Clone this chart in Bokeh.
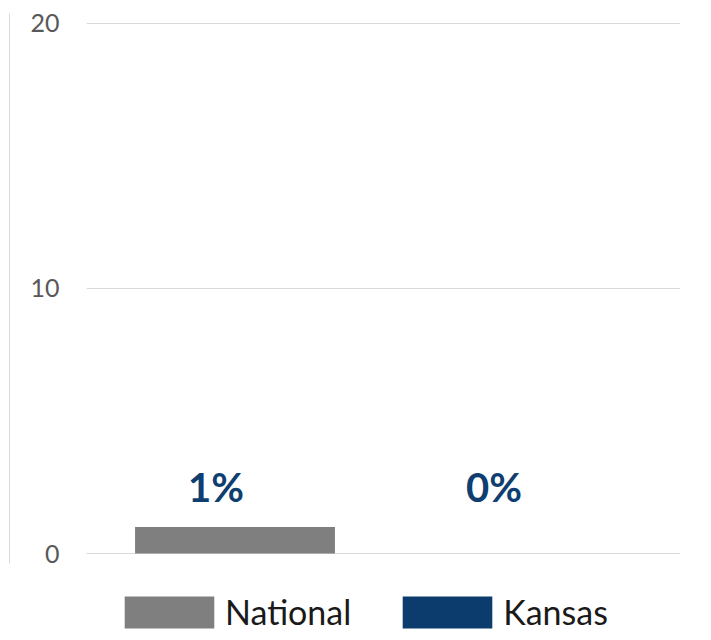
from bokeh.plotting import figure
from bokeh.models import (ColumnDataSource, FactorRange, Range1d, LinearAxis,
                          FixedTicker, Legend, LegendItem)
from bokeh.core.properties import value
from bokeh.embed import file_html
from bokeh.resources import INLINE

# ---- data ----
categories = ["National", "Kansas"]
values = [1, 0]
value_labels = ["1%", "0%"]
y_ticks = [0, 10, 20]

# ---- styles ----
bar_colors = ["#7F7F7F", "#0B3C6D"]
label_dx = [-19, -38]
LABEL_Y = 2.5
FONT = "Lato"
Y_TOP = 20.377          # a little headroom above the 20 gridline
Y_AXIS_BOTTOM = -0.377  # where the light vertical rule ends
Y_BOTTOM = -2.981       # extra room at the bottom for the legend

src = ColumnDataSource(dict(cat=categories, val=values, lab=value_labels,
                            color=bar_colors, dx=label_dx,
                            ly=[LABEL_Y] * len(categories)))

p = figure(x_range=FactorRange(*categories), y_range=Range1d(Y_BOTTOM, Y_TOP),
           width=695, height=632,
           output_backend="svg", toolbar_location=None,
           x_axis_location=None, y_axis_location="left",
           min_border_left=86, min_border_right=15, min_border_top=13,
           min_border_bottom=0, outline_line_color=None)

bars = p.vbar(x="cat", top="val", bottom=0, width=0.673, color="color",
              line_color=None, source=src)

p.text(x="cat", y="ly", text="lab", source=src, x_offset="dx",
       text_align="center", text_baseline="middle",
       text_font=value(FONT), text_font_style="bold",
       text_font_size="40px", text_color="#0E3F70")

# grid
p.xgrid.visible = False
p.ygrid.ticker = FixedTicker(ticks=y_ticks)
p.ygrid.grid_line_color = "#D9D9D9"
p.ygrid.grid_line_width = 1

# inner axis (labels)
ax = p.yaxis[0]
ax.ticker = FixedTicker(ticks=y_ticks)
ax.axis_line_color = None
ax.major_tick_line_color = None
ax.minor_tick_line_color = None
ax.major_tick_out = 0
ax.major_tick_in = 0
ax.major_label_standoff = 27
ax.major_label_text_font = FONT
ax.major_label_text_font_size = "25px"
ax.major_label_text_color = "#595959"
ax.axis_label = "x"
ax.axis_label_text_alpha = 0
ax.axis_label_text_font_size = "10px"
ax.axis_label_standoff = 4

# outer axis (just the light vertical rule)
outer = LinearAxis(ticker=FixedTicker(ticks=[]), axis_line_color="#D9D9D9",
                   axis_line_width=1, major_tick_out=0, major_tick_in=0,
                   minor_tick_out=0, major_label_standoff=0,
                   bounds=(Y_AXIS_BOTTOM, Y_TOP))
p.add_layout(outer, "left")

legend = Legend(items=[LegendItem(label=c, renderers=[bars], index=i)
                       for i, c in enumerate(categories)],
                orientation="horizontal", location=(27, 0),
                glyph_width=112, glyph_height=40, label_standoff=-3,
                label_height=40,
                spacing=40, padding=0, margin=0,
                border_line_color=None, background_fill_alpha=0,
                label_text_font=FONT, label_text_font_size="34px",
                label_text_color="#1A1A1A")
p.add_layout(legend, "center")

open("out.html", "w").write(file_html(p, INLINE))
